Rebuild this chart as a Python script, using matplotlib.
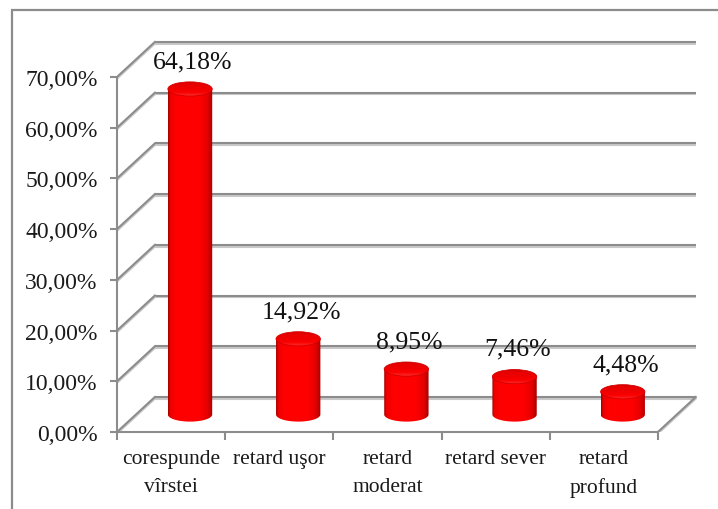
import numpy as np
import matplotlib.pyplot as plt
import matplotlib.patheffects as pe
from matplotlib.patches import Ellipse, PathPatch, Rectangle
from matplotlib.path import Path
from matplotlib.colors import LinearSegmentedColormap
from matplotlib.ticker import FixedLocator, FuncFormatter

categories = ["corespunde\nvîrstei", "retard uşor", "retard\nmoderat", "retard sever", "retard\nprofund"]
values = [64.18, 14.92, 8.95, 7.46, 4.48]
yticks = [0, 10, 20, 30, 40, 50, 60, 70]

def pct(v, pos=None):
    return f"{v:.2f}".replace(".", ",") + "%"

# depth of the pseudo-3D box (x in category units, y in percent)
DX, DY = 0.35, 6.9
BAR_W, CAP_H = 0.41, 2.8
GRID = "#8c8c8c"
FONT = "Liberation Serif"

fig = plt.figure(figsize=(7.18, 5.10), dpi=100)
ax = fig.add_axes([117 / 718, 77 / 510, 595 / 718, 395.6 / 510])
ax.set_xlim(-0.5, 5.0)
ax.set_ylim(0, 78)
ax.patch.set_visible(False)

# outer chart border
fig.add_artist(Rectangle((12 / 718, -0.2), 1.2, 1.2 - 11 / 510,
                         transform=fig.transFigure, fill=False,
                         edgecolor=GRID, lw=1.6))

shadow = [pe.SimpleLineShadow(offset=(0, -1.2), shadow_color="#c8c8c8", alpha=1), pe.Normal()]
x_left, x_right = -0.5, len(categories) - 0.5
for v in yticks:
    ax.plot([x_left + DX, x_right + DX], [v + DY, v + DY], color=GRID, lw=1.5,
            zorder=1, path_effects=shadow, solid_capstyle="butt")
    ax.plot([x_left, x_left + DX], [v, v + DY], color=GRID, lw=1.5, zorder=1,
            path_effects=shadow)
ax.plot([x_right, x_right + DX], [0, DY], color=GRID, lw=1.5, zorder=1, path_effects=shadow)

# front axes
for side in ["top", "right"]:
    ax.spines[side].set_visible(False)
ax.spines["left"].set_bounds(0, 70)
ax.spines["bottom"].set_bounds(x_left, x_right)
for side in ["left", "bottom"]:
    ax.spines[side].set_color(GRID)
    ax.spines[side].set_linewidth(1.5)

ax.yaxis.set_major_locator(FixedLocator(yticks))
ax.yaxis.set_major_formatter(FuncFormatter(pct))
ax.xaxis.set_major_locator(FixedLocator(np.arange(len(categories) + 1) - 0.5))
ax.xaxis.set_major_formatter(FuncFormatter(lambda v, p: ""))
ax.xaxis.set_minor_locator(FixedLocator(np.arange(len(categories))))
ax.set_xticklabels(categories, minor=True)
ax.tick_params(axis="y", length=5, width=1.5, color=GRID, pad=9,
               labelsize=17, labelcolor="#1a1a1a")
ax.tick_params(axis="x", which="major", length=6, width=1.5, color=GRID)
ax.tick_params(axis="x", which="minor", length=0, pad=12, labelsize=15.5, labelcolor="#1a1a1a")
for t in ax.get_yticklabels() + ax.get_xticklabels(minor=True):
    t.set_fontfamily(FONT)
for t in ax.get_xticklabels(minor=True):
    t.set_linespacing(1.65)

# red cylinders
body_cmap = LinearSegmentedColormap.from_list(
    "body", [(0, "#a00000"), (0.05, "#ee0000"), (0.2, "#ff0000"),
             (0.7, "#ff0000"), (0.88, "#e40000"), (1, "#a80000")])
cap_cmap = LinearSegmentedColormap.from_list(
    "cap", [(0, "#ff2a2a"), (0.25, "#f80000"), (0.8, "#e60000"), (1, "#d40000")])
grad = np.linspace(0, 1, 256).reshape(1, -1)
vgrad = np.linspace(0, 1, 64).reshape(-1, 1)
base = DY / 2
t = np.linspace(np.pi, 2 * np.pi, 60)
for i, v in enumerate(values):
    cx = i + DX / 2
    top = v + base
    xs = np.concatenate([[cx - BAR_W / 2], cx + BAR_W / 2 * np.cos(t), [cx + BAR_W / 2]])
    ys = np.concatenate([[top], base + CAP_H / 2 * np.sin(t), [top]])
    body = PathPatch(Path(np.column_stack([xs, ys])), facecolor="none", edgecolor="none", zorder=3)
    ax.add_patch(body)
    im = ax.imshow(grad, cmap=body_cmap, aspect="auto", zorder=3,
                   extent=[cx - BAR_W / 2, cx + BAR_W / 2, base - CAP_H / 2, top])
    im.set_clip_path(body)
    cap = Ellipse((cx, top), BAR_W, CAP_H, facecolor="none", edgecolor="#d00000",
                  lw=0.6, zorder=5)
    ax.add_patch(cap)
    cim = ax.imshow(vgrad, cmap=cap_cmap, aspect="auto", zorder=4, origin="lower",
                    extent=[cx - BAR_W / 2, cx + BAR_W / 2, top - CAP_H / 2, top + CAP_H / 2])
    cim.set_clip_path(cap)
    ax.annotate(pct(v), (cx, top), xytext=(2, 20), textcoords="offset points",
                ha="center", va="center", fontsize=18.5, fontfamily=FONT, color="#111111")

ax.set_xlim(-0.5, 5.0)
ax.set_ylim(0, 78)
fig.savefig("out.png", dpi=100)
